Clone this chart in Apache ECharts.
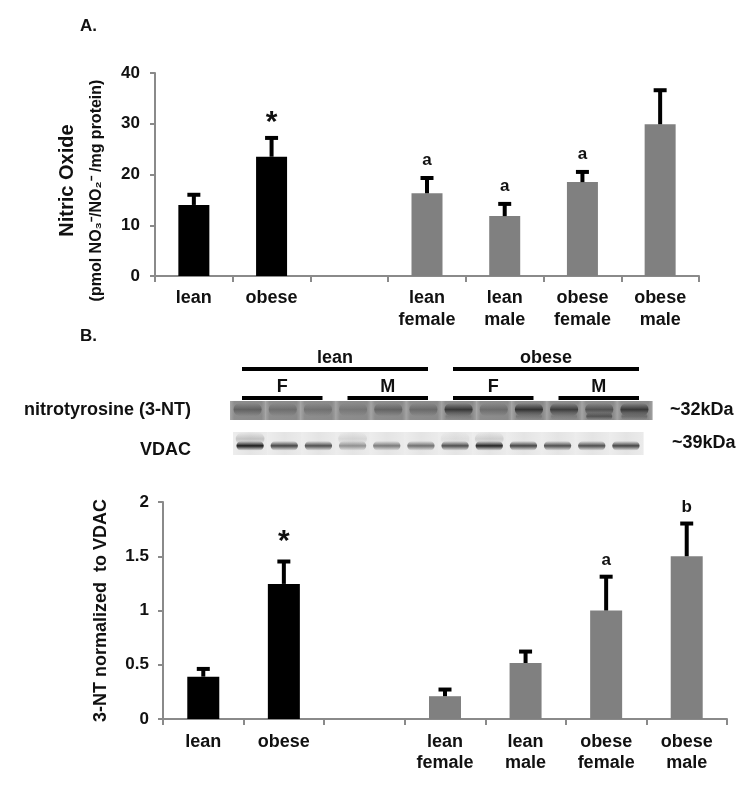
<!DOCTYPE html>
<html><head><meta charset="utf-8">
<script src="https://cdn.jsdelivr.net/npm/echarts@6/dist/echarts.min.js"></script>
<style>html,body{margin:0;padding:0;background:#fff}#c{width:754px;height:789px}</style>
</head><body><div id="c"></div>
<script>
// ---------- data ----------
const categories = ['lean', 'obese', '', 'lean\nfemale', 'lean\nmale', 'obese\nfemale', 'obese\nmale'];
const noValues  = [14.0, 23.5, null, 16.3, 11.8, 18.5, 29.9];
const noErrors  = [2.4, 4.1, null, 3.4, 2.8, 2.4, 7.1];
const noMarks   = ['', '*', '', 'a', 'a', 'a', ''];
const ntValues  = [0.39, 1.245, null, 0.21, 0.516, 1.0, 1.50];
const ntErrors  = [0.09, 0.225, null, 0.08, 0.124, 0.33, 0.32];
const ntMarks   = ['', '*', '', '', '', 'a', 'b'];

const lanes      = ['1','2','3','4','5','6','7','8','9','10','11','12'];
const nt3Band    = [0.4, 0.28, 0.25, 0.2, 0.38, 0.32, 0.8, 0.3, 0.85, 0.75, 0.55, 0.8];
const nt3Lower   = [0, 0, 0, 0, 0, 0, 0.15, 0, 0.2, 0.15, 0.55, 0.3];
const vdacBand   = [0.95, 0.75, 0.7, 0.4, 0.5, 0.55, 0.7, 0.9, 0.75, 0.7, 0.7, 0.75];
const vdacHaze   = [0.3, 0, 0, 0.15, 0, 0, 0.08, 0.2, 0, 0, 0, 0];
const groupNames = ['lean', 'obese'];
const groupLanes = [[0, 5], [6, 11]];
const sexNames   = ['F', 'M', 'F', 'M'];
const sexLanes   = [[0, 2], [3, 5], [6, 8], [9, 11]];

// ---------- helpers ----------
const FONT = '"Liberation Sans", Arial, sans-serif';
const TXT = '#111';
const AX = '#8a8a8a';

function errItem(marks, markFont, gaps) {
  return function (params, api) {
    const i = api.value(0), v = api.value(1), e = api.value(2);
    const base = api.coord([i, v]), top = api.coord([i, v + e]);
    const ch = [
      { type: 'line', shape: { x1: base[0], y1: base[1], x2: top[0], y2: top[1] + 2 }, style: { stroke: '#000', lineWidth: 4 } },
      { type: 'rect', shape: { x: top[0] - 6.5, y: top[1], width: 13, height: 4 }, style: { fill: '#000' } }
    ];
    const m = marks[i];
    if (m) {
      const star = m === '*';
      ch.push({ type: 'text', style: { text: m, x: top[0], y: top[1] - (star ? gaps[0] : gaps[1]),
        align: 'center', verticalAlign: 'bottom', fill: TXT,
        font: 'bold ' + (star ? markFont[0] : markFont[1]) + 'px ' + FONT } });
    }
    return { type: 'group', children: ch };
  };
}

function softBand(cx, cy, bw, bh, rgb, a) {
  return { type: 'rect', shape: { x: cx - bw / 2, y: cy - bh / 2, width: bw, height: bh, r: bh / 2 },
    style: { fill: new echarts.graphic.LinearGradient(0, 0, 0, 1, [
      { offset: 0, color: 'rgba(' + rgb + ',0)' },
      { offset: 0.5, color: 'rgba(' + rgb + ',' + a + ')' },
      { offset: 1, color: 'rgba(' + rgb + ',0)' }]) } };
}

function blotItem(kind) {
  return function (params, api) {
    const i = api.value(0);
    const c = api.coord([i, 0]);
    const s = api.size([1, 1]);
    const w = s[0], h = s[1];
    const x0 = c[0] - w / 2, y0 = c[1] - h / 2;
    const ch = [];
    if (kind === 'nt') {
      ch.push({ type: 'rect', shape: { x: x0, y: y0, width: w + 0.6, height: h },
        style: { fill: new echarts.graphic.LinearGradient(0, 0, 1, 0, [
          { offset: 0, color: '#a6a6a6' }, { offset: 0.12, color: '#8d8d8d' },
          { offset: 0.88, color: '#8a8a8a' }, { offset: 1, color: '#a2a2a2' }]) } });
      ch.push(softBand(c[0], y0 + h * 0.45, w * 0.8, h * 0.7, '35,35,35', nt3Band[i]));
      if (nt3Lower[i] > 0) ch.push(softBand(c[0], y0 + h * 0.8, w * 0.74, h * 0.4, '35,35,35', nt3Lower[i]));
    } else {
      ch.push({ type: 'rect', shape: { x: x0, y: y0, width: w + 0.6, height: h },
        style: { fill: new echarts.graphic.LinearGradient(0, 0, 1, 0, [
          { offset: 0, color: '#ededed' }, { offset: 0.5, color: '#e4e4e4' }, { offset: 1, color: '#ebebeb' }]) } });
      if (vdacHaze[i] > 0) ch.push(softBand(c[0], y0 + h * 0.3, w * 0.84, h * 0.55, '110,110,110', vdacHaze[i]));
      ch.push(softBand(c[0], y0 + h * 0.6, w * 0.8, h * 0.42, '15,15,15', vdacBand[i]));
    }
    return { type: 'group', children: ch };
  };
}

function bracketItem(names, ranges, lift, textLift) {
  return function (params, api) {
    const r = ranges[params.dataIndex];
    const a = api.coord([r[0], 0]), b = api.coord([r[1], 0]);
    const s = api.size([1, 1]);
    const top = a[1] - s[1] / 2;
    const x1 = a[0] - s[0] / 2 + 12, x2 = b[0] + s[0] / 2 - 13;
    const y = top - lift;
    return { type: 'group', children: [
      { type: 'rect', shape: { x: x1, y: y - 2, width: x2 - x1, height: 4 }, style: { fill: '#000' } },
      { type: 'text', style: { text: names[params.dataIndex], x: (x1 + x2) / 2, y: y - textLift,
        align: 'center', verticalAlign: 'middle', fill: TXT, font: 'bold 18px ' + FONT } }
    ] };
  };
}

const catAxisLabel = (margin, lh) => ({ fontSize: 18, fontWeight: 'bold', color: TXT, fontFamily: FONT, margin: margin, lineHeight: lh, interval: 0 });
const valAxisLabel = (margin) => ({ fontSize: 17, fontWeight: 'bold', color: TXT, fontFamily: FONT, margin: margin });

const chart = echarts.init(document.getElementById('c'), null, { renderer: 'canvas' });
chart.setOption({
  animation: false,
  backgroundColor: '#fff',
  textStyle: { fontFamily: FONT },
  title: [
    { text: 'A.', left: 75, top: 13, textStyle: { fontSize: 17, fontWeight: 'bold', color: TXT, fontFamily: FONT } },
    { text: 'B.', left: 75, top: 323, textStyle: { fontSize: 17, fontWeight: 'bold', color: TXT, fontFamily: FONT } }
  ],
  grid: [
    { left: 155, right: 55, top: 73, bottom: 513 },
    { left: 230, right: 102, top: 401, height: 19 },
    { left: 233, right: 111, top: 432, height: 23 },
    { left: 163, right: 27, top: 502, bottom: 70 }
  ],
  xAxis: [
    { type: 'category', gridIndex: 0, data: categories, boundaryGap: true,
      axisLine: { lineStyle: { color: AX, width: 2 } },
      axisTick: { show: true, length: 6, lineStyle: { color: AX, width: 2 }, interval: 0 },
      axisLabel: catAxisLabel(11, 22) },
    { type: 'category', gridIndex: 1, data: lanes, show: false },
    { type: 'category', gridIndex: 2, data: lanes, show: false },
    { type: 'category', gridIndex: 3, data: categories, boundaryGap: true,
      axisLine: { lineStyle: { color: AX, width: 2 } },
      axisTick: { show: true, length: 6, lineStyle: { color: AX, width: 2 }, interval: 0 },
      axisLabel: catAxisLabel(13, 21) }
  ],
  yAxis: [
    { type: 'value', gridIndex: 0, min: 0, max: 40, interval: 10,
      name: '{t|Nitric Oxide}\n{u|(pmol NO₃⁻/NO₂⁻ /mg protein)}', nameLocation: 'middle', nameGap: 43,
      nameTextStyle: { color: TXT, fontWeight: 'bold', fontFamily: FONT, padding: [0, 32, 0, 0],
        rich: { t: { fontSize: 20, fontWeight: 'bold', lineHeight: 30, fontFamily: FONT, color: TXT, padding: [0, 0, 0, 20] },
                u: { fontSize: 16, fontWeight: 'bold', lineHeight: 30, fontFamily: FONT, color: TXT } } },
      axisLine: { show: true, lineStyle: { color: AX, width: 2 } },
      axisTick: { show: true, length: 5, lineStyle: { color: AX, width: 2 } },
      splitLine: { show: false },
      axisLabel: valAxisLabel(15) },
    { type: 'category', gridIndex: 1, data: ['nitrotyrosine (3-NT)'],
      axisLine: { show: false }, axisTick: { show: false },
      axisLabel: { fontSize: 18, fontWeight: 'bold', color: TXT, fontFamily: FONT, margin: 39 } },
    { type: 'category', gridIndex: 1, position: 'right', data: ['~32kDa'],
      axisLine: { show: false }, axisTick: { show: false },
      axisLabel: { fontSize: 18, fontWeight: 'bold', color: TXT, fontFamily: FONT, margin: 18 } },
    { type: 'category', gridIndex: 2, data: ['VDAC'],
      axisLine: { show: false }, axisTick: { show: false },
      axisLabel: { fontSize: 18, fontWeight: 'bold', color: TXT, fontFamily: FONT, margin: 42, lineHeight: 14, verticalAlign: 'top' } },
    { type: 'category', gridIndex: 2, position: 'right', data: ['~39kDa'],
      axisLine: { show: false }, axisTick: { show: false },
      axisLabel: { fontSize: 18, fontWeight: 'bold', color: TXT, fontFamily: FONT, margin: 29 } },
    { type: 'value', gridIndex: 3, min: 0, max: 2, interval: 0.5,
      name: '3-NT normalized  to VDAC', nameLocation: 'middle', nameGap: 52,
      nameTextStyle: { color: TXT, fontWeight: 'bold', fontFamily: FONT, fontSize: 18, lineHeight: 20 },
      axisLine: { show: true, lineStyle: { color: AX, width: 2 } },
      axisTick: { show: true, length: 5, lineStyle: { color: AX, width: 2 } },
      splitLine: { show: false },
      axisLabel: valAxisLabel(14) }
  ],
  series: [
    { type: 'bar', xAxisIndex: 0, yAxisIndex: 0, barWidth: 31,
      data: noValues.map(v => v == null ? '-' : v),
      itemStyle: { color: p => p.dataIndex < 2 ? '#000' : '#808080' } },
    { type: 'custom', xAxisIndex: 0, yAxisIndex: 0, z: 5,
      data: noValues.map((v, i) => [i, v, noErrors[i]]).filter(d => d[1] != null),
      renderItem: errItem(noMarks, [30, 17], [-2, 7]) },
    { type: 'bar', xAxisIndex: 3, yAxisIndex: 5, barWidth: 32,
      data: ntValues.map(v => v == null ? '-' : v),
      itemStyle: { color: p => p.dataIndex < 2 ? '#000' : '#808080' } },
    { type: 'custom', xAxisIndex: 3, yAxisIndex: 5, z: 5,
      data: ntValues.map((v, i) => [i, v, ntErrors[i]]).filter(d => d[1] != null),
      renderItem: errItem(ntMarks, [30, 17], [3, 6]) },
    { type: 'custom', xAxisIndex: 1, yAxisIndex: 1,
      data: lanes.map((l, i) => [i, 0]), renderItem: blotItem('nt') },
    { type: 'custom', xAxisIndex: 2, yAxisIndex: 3,
      data: lanes.map((l, i) => [i, 0]), renderItem: blotItem('vdac') },
    { type: 'custom', xAxisIndex: 1, yAxisIndex: 1, z: 6,
      data: groupLanes.map(r => [r[0], 0]), renderItem: bracketItem(groupNames, groupLanes, 32, 11) },
    { type: 'custom', xAxisIndex: 1, yAxisIndex: 1, z: 6,
      data: sexLanes.map(r => [r[0], 0]), renderItem: bracketItem(sexNames, sexLanes, 3, 11) }
  ]
});
</script>
</body></html>
